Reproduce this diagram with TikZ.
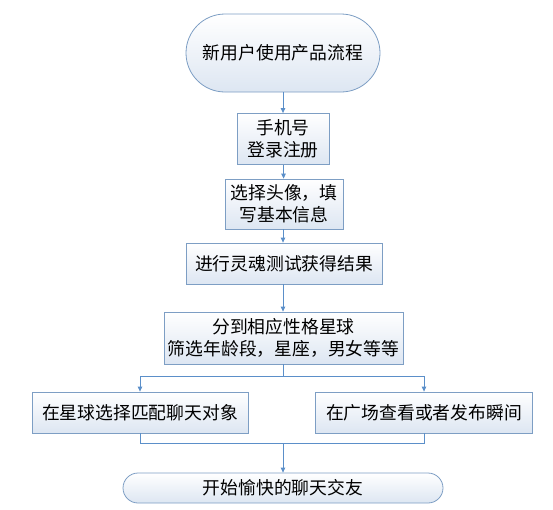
\documentclass[tikz,border=0pt]{standalone}
\usepackage{fontspec}
\newfontfamily\cjk{Noto Sans CJK SC}
\usetikzlibrary{arrows.meta}

\definecolor{edgeblue}{RGB}{125,158,196}
\definecolor{arrowblue}{RGB}{91,143,201}
\definecolor{fillbot}{RGB}{221,230,242}

\begin{document}
\begin{tikzpicture}[x=1pt, y=-1pt,
    box/.style={draw=edgeblue, line width=0.8pt, top color=white, bottom color=fillbot,
        align=center, inner sep=0pt, font=\cjk\fontsize{17.8}{22}\selectfont},
    term/.style={box, rounded corners=#1},
    arr/.style={draw=arrowblue, line width=0.8pt, -{Triangle[length=5pt,width=4.5pt]}},
    link/.style={draw=arrowblue, line width=0.8pt}]
    \useasboundingbox (0,0) rectangle (553,509);

    % Start and end
    \node[term=39pt, minimum width=194pt, minimum height=78pt] (start) at (283,53) {新用户使用产品流程};
    \node[term=15pt, minimum width=320pt, minimum height=30pt] (chat) at (283,488) {开始愉快的聊天交友};

    % Steps
    \node[box, minimum width=92pt, minimum height=51pt] (reg) at (283,139) {手机号\\登录注册};
    \node[box, minimum width=118pt, minimum height=50pt] (info) at (284,204) {选择头像，填\\写基本信息};
    \node[box, minimum width=196pt, minimum height=41pt] (test) at (284,263.5) {进行灵魂测试获得结果};
    \node[box, minimum width=239pt, minimum height=52pt] (planet) at (283.5,338) {分到相应性格星球\\筛选年龄段，星座，男女等等};

    % Branches
    \node[box, minimum width=216pt, minimum height=41pt] (match) at (140,412.5) {在星球选择匹配聊天对象};
    \node[box, minimum width=217pt, minimum height=41pt] (square) at (424,412.5) {在广场查看或者发布瞬间};

    \coordinate (split) at (283,376);
    \coordinate (join) at (283,443);

    % Arrows
    \draw[arr] (start) -- (reg);
    \draw[arr] (reg) -- (info);
    \draw[arr] (info.south -| reg.south) -- (test.north -| reg.south);
    \draw[arr] (test.south -| reg.south) -- (planet.north -| reg.south);
    \draw[link] (planet.south -| split) -- (split);
    \draw[arr] (split) -| (match.north);
    \draw[arr] (split) -| (square.north);
    \draw[link] (match.south) |- (join);
    \draw[link] (square.south) |- (join);
    \draw[arr] (join) -- (chat);
\end{tikzpicture}
\end{document}
